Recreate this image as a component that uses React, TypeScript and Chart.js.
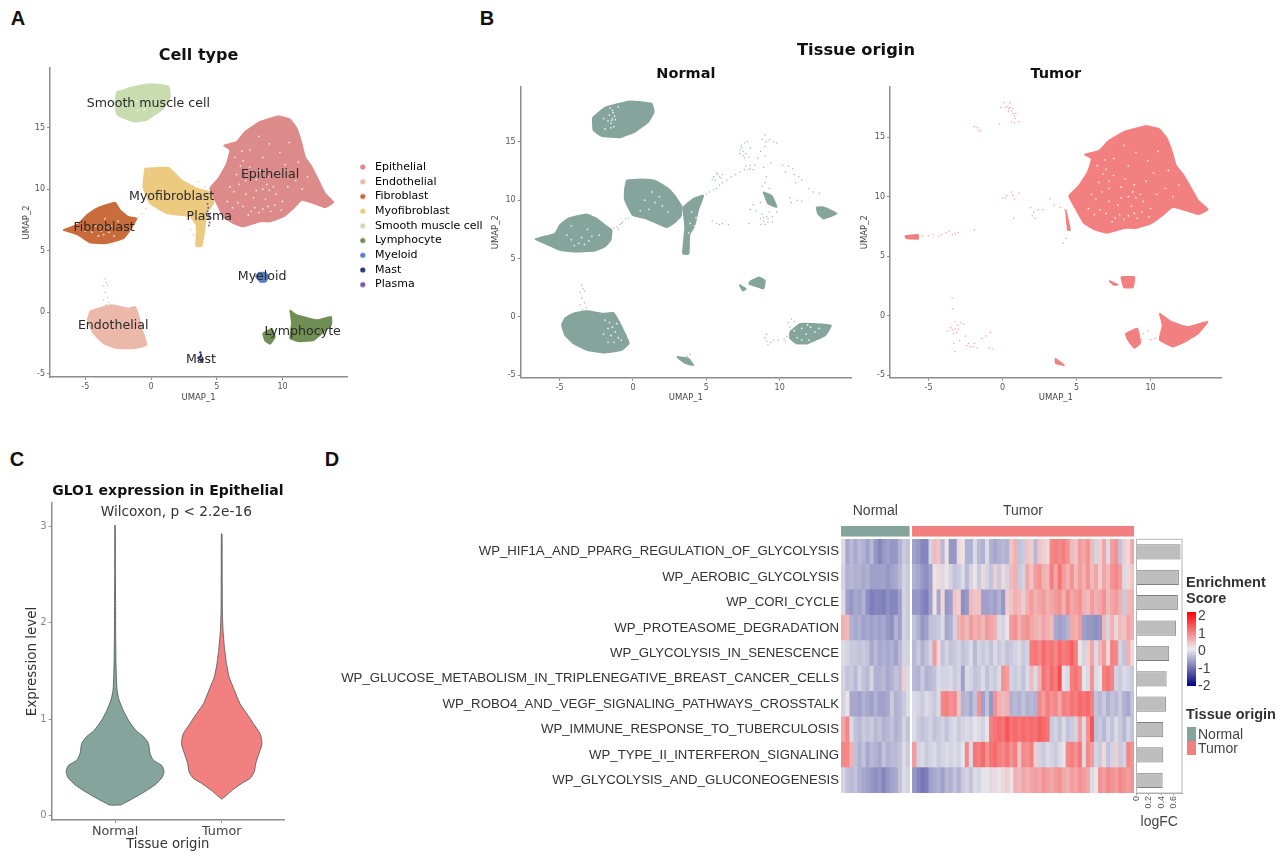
import React, { useEffect, useRef } from "react";
import { Chart, registerables } from "chart.js";
Chart.register(...registerables);
Chart.defaults.font.family = "'DejaVu Sans'";

/* ---------- colours ---------- */
const NORMAL = "#85a59c";
const TUMOR = "#f28080";
const HOLE = "rgba(255,255,255,0.8)";
const cellTypes = ["Epithelial", "Endothelial", "Fibroblast", "Myofibroblast", "Smooth muscle cell", "Lymphocyte", "Myeloid", "Mast", "Plasma"];
const cellColors = ["#dc8a8a", "#ecb8aa", "#c96c3c", "#eccb80", "#c8dcb0", "#6f8f55", "#5a7ec0", "#2b3a80", "#7a5aa5"];

/* ---------- panel A / B: cluster outlines in UMAP coordinates ---------- */
const epithelial = [[9.68,15.96],[10.57,15.69],[11.08,14.96],[11.46,13.73],[11.71,12.65],[12.22,11.83],[12.73,10.75],[13.23,9.66],[13.87,8.93],[13.23,8.52],[12.34,8.85],[11.46,9.12],[10.82,8.44],[10.06,7.76],[9.05,7.36],[8.29,7.36],[7.02,6.95],[6.26,7.22],[5.5,7.76],[4.87,9.12],[4.49,10.07],[5.12,10.88],[5.75,12.1],[6.01,13.19],[5.55,13.55],[6.51,13.87],[7.15,14.69],[8.29,15.5]];
const smoothA = [[-2.61,17.94],[-2.74,16.99],[-2.56,16.04],[-1.34,15.5],[-0.33,15.63],[0.94,16.58],[1.44,17.53],[1.32,18.4],[-0.08,18.57],[-1.47,18.3],[-2.23,18.02]];
const fibroA = [[-6.67,6.68],[-5.53,7.17],[-4.89,7.9],[-4.13,8.44],[-2.74,8.93],[-2.36,8.31],[-1.72,7.76],[-1.09,7.63],[-1.6,6.68],[-2.1,6],[-3.37,5.59],[-4.64,5.65],[-5.53,6.27]];
const myoA = [[-0.46,11.7],[1.33,11.75],[2.33,10.75],[3.47,10.07],[4.74,9.66],[4.74,8.85],[4.23,8.03],[4.03,6.4],[3.85,5.37],[3.42,5.37],[3.47,7],[2.97,7.76],[1.19,8.03],[-0.08,8.85],[-0.6,10.2]];
const endoA = [[-4.84,-0.65],[-4.64,0.03],[-4,0.3],[-2.99,0.57],[-1.72,0.3],[-1.22,0.43],[-0.96,-0.24],[-0.71,-1.33],[-0.33,-2.69],[-1.34,-2.96],[-2.61,-2.96],[-3.62,-2.55],[-4.39,-1.74]];
const lymphMainA = [[10.57,0.16],[11.07,-0.24],[12.6,-0.65],[13.7,-0.38],[13.7,-1.05],[13,-1.74],[12.35,-2.3],[11.3,-2.4],[10.57,-2.15],[10.7,-0.92]];
const lymphSmallA = [[8.5,-1.74],[9.18,-1.35],[9.43,-2],[9.05,-2.6],[8.65,-2.3]];
const myeloidA = [[7.95,2.9],[8.2,3.2],[8.7,3.2],[8.95,2.9],[8.7,2.45],[8.3,2.45]];
const mastDots = [[3.75,-3.9],[3.85,-4],[3.7,-3.7],[3.8,-3.5],[3.9,-3.85],[3.6,-3.75],[3.75,-3.3]];
const plasmaDots = [[4.3,8.8],[4.35,8.5],[4.3,8.2],[4.4,7.9],[4.35,7.6],[4.45,7.3],[4.4,7.05],[4.2,8],[4.5,7.7]];
const endoStray = [[-3.5,2.7],[-3.4,2.4],[-3.6,2.1],[-3.3,2.2],[-3.5,1.6],[-3.3,1.2],[-3.2,0.8],[-3.45,0.6],[-3.1,0.5],[-3.6,1]];
const myoStray = [[-1,7.7],[-0.7,8],[-0.4,8.4],[3.2,10.3],[3.6,10.6],[4.1,10.2],[4.5,10],[3.9,9.9],[3,6.7],[3.2,6.3]];

const nSmooth = [[-2.75,17.09],[-1.91,17.94],[-0.2,18.49],[1.27,18.29],[1.43,17.57],[1.05,16.71],[0.14,15.86],[-0.89,15.37],[-2.14,15.49],[-2.7,16]];
const nMyo = [[-0.43,11.71],[0.48,11.8],[1.39,11.71],[1.95,11.37],[2.52,10.86],[2.98,10.14],[3.32,9.43],[3.27,8.63],[2.86,8.09],[2.3,7.66],[1.39,8.14],[0.82,8.43],[-0.02,8.71],[-0.55,10],[-0.55,11]];
const nTail = [[3.4,9.4],[4.1,10.1],[4.8,10.4],[4.45,9.15],[4.2,7.8],[3.85,7],[3.8,5.4],[3.4,5.4],[3.55,7.7]];
const nFibro = [[-6.68,6.66],[-6.11,6.86],[-5.32,7.14],[-4.98,7.86],[-4.41,8.43],[-3.16,8.8],[-2.48,8.43],[-1.91,7.86],[-1.45,7.43],[-1.52,6.57],[-1.91,6],[-2.59,5.66],[-4.07,5.57],[-4.98,5.71],[-5.77,6.14]];
const nEndo = [[-4.86,-0.71],[-4.64,-0.14],[-4.07,0.29],[-3.16,0.49],[-2.02,0.29],[-1.34,0.34],[-1,-0.29],[-0.66,-1.14],[-0.27,-2.29],[-0.77,-2.86],[-2.02,-3.09],[-3.16,-2.86],[-4.07,-2.29],[-4.64,-1.57]];
const nLymph = [[10.7,-1.3],[11.4,-0.6],[13.5,-0.75],[13.1,-1.6],[11.9,-2.3],[11.15,-2.3],[10.7,-1.85]];
const nMyeloid = [[8,3.05],[8.6,3.4],[9,3.1],[8.9,2.4],[8.4,2.6],[7.9,2.8]];
const nMyeloid2 = [[7.25,2.75],[7.7,2.4],[7.5,2.2]];
const nMast = [[2.98,-3.43],[3.78,-3.57],[4.12,-4.16],[3.54,-3.98]];
const nPatch1 = [[8.88,10.7],[9.45,10.4],[9.8,9.4],[9.2,9.7]];
const nPatch2 = [[12.5,9.4],[13,9.4],[13.9,8.85],[13,8.4],[12.6,8.85]];
const nStray = [[-3.5,2.7],[-3.4,2.4],[-3.6,2.1],[-3.3,2.2],[-3.5,1.6],[-3.3,1.2],[-3.2,0.8],[-3.45,0.6],[-3.1,0.5],[-3.6,1],
  [-1.3,7.6],[-1.1,7.7],[-0.9,7.9],[-0.7,8.1],[-0.5,8.4],[-0.3,8.5],[-0.8,8],[-1,7.5],
  [5,10.5],[5.2,10.7],[5.5,10.9],[5.7,11],[5.9,11.3],[6.1,11.5],[6.4,11.7],[6.7,12],[7,12.2],[7.3,12.4],[7.6,12.6],[8,12.7],[6,11.9],[5.6,11.7],[5.5,12],[5.8,12.2],[6.1,12.2],[5.4,11.8],[5.9,12],[5.7,12.3],
  [7.4,14.7],[7.6,14.9],[7.8,15],[7.3,14.3],[7.5,14.2],[7.7,14],[7.9,13.7],[7.3,14],[7.5,13.8],[8,14.5],[8,13],[7.7,12.9],[8.2,12.6],[8.3,13],[7.9,12.6],[7.4,14.5],[7.6,13.6],
  [8.8,15.2],[9,15.6],[9.1,15],[9.3,15.2],[9.6,15],[9.8,14.9],[9,14.6],[8.7,14.2],[8.5,13.6],[9,13.8],[9.4,13.2],[8.9,12.8],[9.1,12],[10.2,13],[10.6,12.9],[10.9,12.7],[11,12.2],[10.4,12.4],[11.3,12],[11.5,11.7],[11.1,11.5],[12,11],[12.3,10.7],[12.7,10.6],[11.2,10],[10.7,10.2],[10.8,9.8],[11.5,9.9],
  [9,11.5],[8.8,11.2],[9.3,11],[8.7,9.8],[8.2,9.6],[8,9.2],[8.4,9.1],[8.7,8.4],[8.9,8.2],[9.2,8.4],[9.5,8.6],[9.8,9],[9.3,9],[8.8,8.8],[9.5,8.1],[9,7.9],[8.7,7.9],[7.9,8],[9.1,8.6],[8.9,8.5],[9.2,8.1],
  [5.4,8.2],[5.7,8],[5.9,7.9],[6.1,8],[6.5,7.9],
  [9,-1.8],[9.1,-2.1],[9.2,-2.4],[9.4,-2.2],[9.6,-2],[9.9,-2],[10.3,-1.9],[10.5,-1.7],[10.6,-0.5],[10.8,-0.2],[11,-0.4],[10.7,-0.9],[10.4,-2.1],[9.1,-1.5],[3.9,-3.2],[3.7,-3.4]];

const tLymph = [[10.6,0.2],[11.4,-0.5],[12.5,-0.92],[13.85,-0.5],[13.2,-1.5],[12.3,-2.2],[11.5,-2.6],[10.6,-2],[10.8,-0.8]];
const tLymph2 = [[8.3,-1.5],[9.1,-1.05],[9.3,-2.3],[8.9,-2.7],[8.45,-2]];
const tMyeloid = [[8,3.27],[8.9,3.27],[8.8,2.38],[8.2,2.38]];
const tMyeloid2 = [[7.2,2.95],[7.8,2.6],[7.5,2.6]];
const tMast = [[3.55,-3.58],[4.16,-4.15],[3.6,-4]];
const tStrip = [[-6.6,6.7],[-5.7,6.8],[-5.7,6.45],[-6.5,6.5]];
const tStrand = [[4.27,8.9],[4.57,7.2],[4.4,7.2]];
const tStray = [[0.3,17.6],[0.5,17.5],[0.4,17.2],[0.6,17.2],[0.7,17],[0.8,16.8],[0.9,17],[0.5,17.9],[0.2,17.5],[0.4,17.4],[0.7,17.4],[0.85,16.6],[-0.1,17.5],[0.1,17.9],[-0.2,16.1],[0.6,16.3],[1.1,16.3],[0.8,16.2],
  [-1.9,15.9],[-1.7,15.8],[-1.5,15.5],[-1.6,15.6],
  [0,9.9],[0.3,10.1],[0.6,10.4],[0.7,10.1],[0.8,9.8],[1.1,10.3],[0.2,9.9],[0.75,8.2],
  [1.9,9.1],[2.1,8.7],[2,8.4],[2.4,8.9],[2.7,8.9],[2.2,8.2],[3.2,9.8],[3.5,9.3],[3.9,9.1],[4.2,8.9],[4.1,6.1],[4.3,6.5],
  [-5.4,6.7],[-5,6.7],[-4.7,6.8],[-4.3,6.7],[-4.1,6.8],[-3.8,7],[-3.6,7.1],[-3.4,6.8],[-3.2,6.9],[-3,7],[-1.9,7.2],
  [-3.5,-1],[-3.4,-1.2],[-3.2,-1.1],[-3.1,-1.4],[-3.3,-1.5],[-3,-1.1],[-3,-0.8],[-2.8,-0.6],[-2.6,-0.7],[-3.7,-1.3],[-3.2,-0.5],[-2.5,-1.7],[-2.4,-2.5],[-2.2,-2.6],[-2,-2.6],[-2.3,-2.3],[-1.9,-2.3],[-1.7,-2.7],[-1.4,-1.9],[-1.1,-1.7],[-0.8,-1.4],[-0.9,-2.7],[-0.7,-2.8],[-3.2,-3],[-3.35,0.6],[-3.4,1.5],[-3.3,-2.3],[-2.9,-2.1],
  [9.5,-1.5],[10,-2],[9.4,-2],[9.8,-1.3],[10.3,-1.9]];

/* white gaps inside the clusters */
const holesEpi = [[7.5,11.8],[7.2,11.3],[8.8,10.4],[9,9.9],[8.5,10],[9.3,10.2],[9.5,9.6],[8.7,9.2],[8.9,8.6],[7.6,8.2],[7.9,8.5],[7,8.6],[6.6,8.9],[6.3,9.8],[6.7,10.4],[7.2,9.6],[7.4,7.9],[8.2,8.1],[8.5,8.4],[9.1,8.2],[9.4,8.7],[7.8,9.3],[8,10.8],[8.3,11.5],[7,12.3],[6.8,11.9],[9.8,13],[10.2,12],[9,13.7],[8.5,12.6],[10.4,10.2],[11,10.7],[11.5,10],[11.9,11],[6.2,8.5],[5.8,9],[6.4,12.6],[6.9,13.1],[7.5,13.2],[9.7,11.3],[10.5,13.8],[8.2,14.3],[10,9],[9.9,8.3],[7.2,10.7],[8.9,11],[6,10.2],[6.5,11.2],[11.2,12.2],[8,9.9]];
const holesFibA = [[-3.8,6.6],[-3.6,6.3],[-3.2,6.5],[-3.4,6.9],[-4.2,7],[-4.5,6.5],[-2.8,6.2],[-3,7],[-4,6.2],[-2.5,7.4],[-3.5,7.6],[-5,6.6]];
const holesSmoothA = [[-1,16.4],[-0.8,16.9],[-1.1,17.2],[-0.5,16.5]];
const holesN = [[-1.4,17],[-1.5,16.6],[-1.6,17.3],[-1.3,16.3],[-1.5,16.2],[-1.35,17.5],[-1.2,16.9],[-1.7,16.8],[-1.4,17.7],[-1.55,17.9],[-1,18],[-2,17],[-1.9,16.1],[-1.25,17.2],[-1.45,16.85],
  [-1.6,-0.5],[-1.4,-0.9],[-1.2,-1.3],[-1.1,-0.6],[-1.5,-1.6],[-1.7,-1],[-1,-1.8],[-1.9,-0.3],[-1.3,-2.2],[-0.8,-2],[-1.7,-2.2],[-2,-1.5],
  [11.5,-1],[11.8,-1.5],[12.1,-0.9],[11.2,-1.8],[12.4,-1.3],[11,-1.2],[12.7,-1],[12,-2],[11.5,-2],[11.9,-0.7],
  [1.5,9.8],[2,9.5],[0.8,10],[1.1,9.2],[2.4,9],[0.5,9.1],[1.8,10.3],[1.3,10.7],
  [4,9],[4.3,8.5],[3.9,8],[4.2,7.8],[3.8,7.2],[4.4,7.6],
  [-4.5,7],[-4.2,6.6],[-3.7,6.3],[-3.3,6.2],[-3,6.5],[-2.8,6.9],[-3.5,6.8],[-4,6.1],[-2.3,7],[-3.1,7.5],[-4.2,7.8]];

const umapTicksX = [-5, 0, 5, 10];
const umapTicksY = [-5, 0, 5, 10, 15];
const clusterLabels = ["Smooth muscle cell", "Epithelial", "Myofibroblast", "Plasma", "Fibroblast", "Myeloid", "Endothelial", "Lymphocyte", "Mast"];
const clusterLabelX = [-0.2, 9.05, 1.57, 4.43, -3.57, 8.45, -2.88, 11.53, 3.8];
const clusterLabelY = [17.0, 11.2, 9.4, 7.73, 6.87, 2.87, -1.14, -1.6, -3.9];

/* ---------- panel C ---------- */
const violinGroups = ["Normal", "Tumor"];
const normalLevel = [0.11,0.13,0.18,0.25,0.32,0.39,0.455,0.52,0.575,0.645,0.75,0.82,0.885,0.99,1.09,1.2,1.3,1.44,1.58,1.85,2.2,2.54,3.01];
const normalWidth = [0.053,0.088,0.172,0.281,0.375,0.438,0.459,0.438,0.359,0.328,0.3125,0.266,0.194,0.125,0.078,0.0375,0.019,0.0125,0.009,0.006,0.005,0.003,0.002];
const tumorLevel = [0.17,0.214,0.265,0.334,0.386,0.455,0.54,0.645,0.73,0.78,0.85,0.955,1.06,1.16,1.3,1.44,1.58,1.75,1.92,2.13,2.37,2.92];
const tumorWidth = [0,0.047,0.1,0.1875,0.266,0.306,0.319,0.35,0.375,0.375,0.36,0.297,0.234,0.172,0.119,0.069,0.044,0.025,0.0125,0.006,0.005,0.003];

/* ---------- panel D ---------- */
const pathways = ["WP_HIF1A_AND_PPARG_REGULATION_OF_GLYCOLYSIS","WP_AEROBIC_GLYCOLYSIS","WP_CORI_CYCLE","WP_PROTEASOME_DEGRADATION","WP_GLYCOLYSIS_IN_SENESCENCE","WP_GLUCOSE_METABOLISM_IN_TRIPLENEGATIVE_BREAST_CANCER_CELLS","WP_ROBO4_AND_VEGF_SIGNALING_PATHWAYS_CROSSTALK","WP_IMMUNE_RESPONSE_TO_TUBERCULOSIS","WP_TYPE_II_INTERFERON_SIGNALING","WP_GLYCOLYSIS_AND_GLUCONEOGENESIS"];
const logFC = [0.716,0.689,0.673,0.645,0.532,0.49,0.478,0.435,0.435,0.425];
const scoreNormal = [
  [-0.2,-0.8,-0.6,-0.8,-0.6,-0.7,-0.9,-0.6,-1,-1.2,-1,-0.9,-1,-1,-0.7,-0.4,-0.5],
  [-0.3,-0.7,-0.6,-0.7,-0.7,-0.8,-0.7,-0.9,-0.9,-0.9,-0.9,-1,-0.9,-0.8,-0.6,-0.3,-0.4],
  [-0.2,-0.9,-1,-0.8,-0.9,-0.7,-1.1,-1.3,-1.2,-1.2,-1.3,-1.1,-1.2,-1.2,-0.9,-0.3,-0.4],
  [0.6,0.5,-0.7,-0.8,-0.7,-0.9,-0.8,-0.9,-0.8,-0.9,-0.8,-1,-1.1,-0.7,-0.9,-0.3,-0.4],
  [-0.2,-0.3,-0.4,-0.4,-0.5,-0.4,-0.5,-0.8,-0.6,-0.8,-0.7,-0.8,-0.7,-0.9,-0.6,-0.3,-0.3],
  [-0.3,-0.5,-0.4,-0.6,-0.3,-0.5,-0.6,-0.3,-0.7,-0.7,-0.6,-0.8,-0.7,-0.5,-0.6,0.3,-0.2],
  [-0.3,0.1,-0.8,-0.8,-0.9,-0.7,-0.8,-0.9,-0.7,-0.9,-0.9,-0.8,-0.4,-0.7,-0.6,-0.4,-0.2],
  [0.7,1,-0.2,-0.5,-0.6,-0.4,-0.5,-0.4,-0.6,-0.5,-0.7,-0.6,-0.5,-0.7,-0.6,-0.3,-0.5],
  [1,1,0.6,-0.5,-0.7,-0.5,-0.8,-0.6,-0.7,-0.8,-0.5,-0.7,-0.6,-0.6,-0.5,-0.2,-0.4],
  [-0.3,-0.5,-0.6,-0.5,-0.7,-0.8,-0.9,-1,-1.1,-1,-1.2,-1,-0.9,-0.8,-0.5,-0.2,-0.3],
];
const scoreTumor = [
  [-0.9,-1,-1.2,-1.2,-0.3, 0.5,0.4,-0.6,0.1,-1, -1,0.2,0.1,-0.7,-0.7, -0.2,-0.6,-0.7,-0.2,-0.7, -0.8,-0.7,-0.6,-0.7,0.4, 0.6,-0.5,-0.4,0.4,0.3, -0.6,0.4,0.3,0.2,1, 1.1,1,1.1,0.9,0.5, 0.4,0.8,0.7,0.9,0.5, -0.3,0.3,0.7,-0.2,0.8, 0.9,-0.5,0.3,0.2,0.7],
  [-0.7,-0.8,-1,-1.1,-0.9, 0.1,0.2,-0.2,0.1,-0.3, -0.5,-0.4,-0.2,-0.6,-0.3, 0.1,-0.4,0.2,-0.3,-0.5, 0.3,-0.4,0.2,-0.3,0.5, 0.6,-0.4,-0.3,0.7,0.4, 0.8,0.9,0.6,0.5,1.1, 0.7,1.2,0.8,0.6,0.9, 0.5,0.8,0.6,0.9,0.5, 0.7,0.3,0.7,0.5,0.9, 1,0.8,-0.2,0.2,0.4],
  [-1,-1,-1.2,-1.3,-0.9, 0.1,-0.8,0.2,-1,-0.9, 0.4,0.3,-1.1,-1,0.5, 0.4,0.4,-0.9,-0.9,-0.8, -0.9,-0.7,-1,0.3,0.4, 0.6,0.5,0.3,0.6,0.8, 0.6,0.7,0.8,0.6,0.7, 0.8,0.9,0.6,1,0.7, 0.8,0.9,0.6,0.5,0.8, 0.6,0.7,0.9,0.5,0.7, 0.8,0.6,-0.4,0.5,0.6],
  [-0.5,-0.7,-1,-0.9,-0.5, -0.5,-0.4,-0.2,-0.8,-0.7, -0.3,0.6,0.7,0.5,0.8, 0.6,0.7,0.5,0.8,0.7, 0.6,-0.2,-0.3,0.1,0.8, 0.9,0.6,0.8,0.9,0.7, 0.6,0.5,0.7,0.6,0.5, -0.8,-0.9,-0.8,-0.7,0.7, 0.6,0.8,-0.9,-1,-1, -1.1,-1,0.5,-0.3,0.6, 0.2,0.5,0.4,0.7,0.6],
  [-0.6,-0.4,-0.7,-0.5,-0.3, 0.8,0.2,-0.5,-0.3,-0.5, -0.4,-0.3,-0.5,-0.4,-0.2, -0.6,-0.3,-0.4,-0.3,-0.5, -0.2,-0.4,-0.3,-0.5,-0.4, -0.3,-0.2,-0.4,-0.3,1.1, 1.2,1,1.3,1.1,1.2, 1,1.3,1.1,1.2,1.4, 1.1,0.1,-0.3,0.3,0.7, -0.2,0.5,0.8,0.2,1.1, 1,-0.3,-0.5,0.6,0.2],
  [-0.6,-0.7,-0.4,-0.7,-0.6, -0.5,-0.2,-0.3,-0.3,-0.2, -0.4,-0.3,-0.9,-0.2,-0.3, -0.5,-0.4,-0.2,-0.5,-0.3, -0.4,-0.2,0.9,0.8,-0.3, -0.4,-0.3,-0.5,-0.2,0.5, -0.2,0.6,1.2,1,1.3, 1.1,1.6,-0.1,-0.2,1.1, 1.2,1,-0.1,-0.2,0.9, -0.2,-0.1,1.1,1.2,1, -0.3,-0.4,-0.2,-0.3,-0.4],
  [-0.2,-0.3,-0.4,-0.2,-0.3, -0.4,-0.2,1,1.1,0.9, 1,0.4,-0.7,-0.6,-0.8, -0.5,0.9,-0.9,-0.5,-1, 0.9,0.6,0.5,0.6,-0.7, -0.6,-0.7,-0.5,-0.7,-0.6, -0.7,1,0.8,1.1,0.9, 1,0.7,1.1,1,1.2, 1.1,1.3,1.2,1.3,1.1, -0.5,-0.6,-0.4,-0.7,-0.5, -0.6,-0.4,-0.7,-0.8,-0.5],
  [-0.2,-0.4,-0.5,-0.4,-0.3, -0.5,-0.4,-0.3,-0.5,-0.3, -0.2,-0.4,-0.3,-0.2,-0.3, -0.1,-0.2,-0.3,-0.1,1.1, 1.2,1.3,1.2,1.5,1.2, 1.3,1.2,1.3,1.2,1.3, 1.2,1.4,1.3,1.2,-0.4, -0.3,-0.5,-0.2,-0.5,-0.4, -0.3,0.8,-0.2,0.9,1.5, -0.5,-0.4,-0.6,-0.3,-0.5, -0.2,-0.4,-0.6,-0.3,-0.5],
  [0.8,-0.3,-0.2,-0.4,-0.3, -0.2,-0.4,-0.3,-0.2,-0.3, -0.2,-0.3,-0.1,1,-0.2, 1.2,1.1,1.3,0.9,1.2, 1.3,1.1,1,1.2,0.9, 1.1,0.4,1,0.9,1.1, 0.3,-0.3,-0.4,-0.2,-0.3, -0.4,-0.2,-0.1,1,1.1, 0.9,1.2,-0.2,1,0.8, -0.3,-0.4,0.2,-0.5,-0.3, 0.3,-0.4,-0.3,1,0.9],
  [-1,-1.2,-1.4,-1.3,-0.9, -0.8,-0.7,-0.9,-0.6,-0.7, -0.5,-0.7,-0.4,-0.3,-0.5, -0.2,-0.3,-0.1,0.1,-0.2, 0.2,-0.1,0.2,0.3,0.1, 0.6,0.5,0.7,0.6,0.7, 0.8,0.7,0.9,0.8,0.7, 0.8,0.9,0.7,0.6,0.8, 0.7,0.9,0.8,0.7,-0.2, 0.1,0.9,0.8,1,0.9, 0.8,1,0.9,0.8,0.9],
];
const groupNames = ["Normal", "Tumor"];
const groupSizes = [17, 55];
const GAP = 0.6;
const legendScoreTicks = ["2", "1", "0", "-1", "-2"];

/* ---------- helpers ---------- */
type Box = { l: number; t: number; r: number; b: number };
const LOW = [0, 0, 128], MID = [236, 236, 238], HIGH = [255, 0, 0];
function scoreColor(v: number) {
  const end = v < 0 ? LOW : HIGH;
  const f = Math.min(1, (Math.abs(v) / 2) * (v < 0 ? 0.72 : 0.85));
  const c = MID.map((m, i) => Math.round(m + (end[i] - m) * f));
  return `rgb(${c[0]},${c[1]},${c[2]})`;
}
const pts = (a: number[][]) => a.map(([x, y]) => ({ x, y }));
const blob = (a: number[][], color: string) => ({
  type: "scatter", data: pts([...a, a[0]]), showLine: true, fill: "shape", tension: 0.12,
  borderColor: color, backgroundColor: color, borderWidth: 1.4, pointRadius: 0,
});
const dots = (a: number[][], color: string, r = 0.75) => ({
  type: "scatter", data: pts(a), showLine: false, pointRadius: r, pointBorderWidth: 0,
  backgroundColor: color, borderColor: color,
});
function textPlugin(items: any[]) {
  return {
    id: "textItems",
    afterDatasetsDraw(chart: any) {
      const { ctx, scales } = chart;
      ctx.save();
      for (const it of items) {
        const xs = scales.x, ys = scales.y;
        ctx.font = it.font;
        ctx.fillStyle = it.color;
        ctx.textAlign = "center";
        ctx.textBaseline = "middle";
        ctx.fillText(it.text, xs.getPixelForValue(it.x), ys.getPixelForValue(it.y) + (it.dy || 0));
      }
      ctx.restore();
    },
  };
}
const tickAxis = (extra: any) => ({
  type: "linear",
  border: { color: "#8c8c8c", width: 1.5 },
  grid: { drawOnChartArea: false, tickLength: 3, color: "#8c8c8c" },
  ...extra,
});
function frameOpts(c: Box, a: Box, o: { title?: any; yShown?: boolean; xShown?: boolean }) {
  const yShown = o.yShown !== false, xShown = o.xShown !== false;
  const plugins: any = { legend: { display: false }, tooltip: { enabled: false } };
  if (o.title) {
    const lh = o.title.size * 1.2;
    const top = o.title.cy - lh / 2 - c.t;
    plugins.title = {
      display: true, text: o.title.text, fullSize: false, color: "#111",
      font: { size: o.title.size, weight: "bold", lineHeight: 1.2 },
      padding: { top, bottom: a.t - c.t - top - lh },
    };
  }
  return {
    responsive: false, animation: false, events: [], devicePixelRatio: 1,
    layout: { autoPadding: false, padding: { left: yShown ? 0 : a.l - c.l, top: o.title ? 0 : a.t - c.t, right: c.r - a.r, bottom: xShown ? 0 : c.b - a.b } },
    plugins,
    fixX: (s: any) => { s.height = c.b - a.b; },
    fixY: (s: any) => { s.width = a.l - c.l; },
  } as any;
}
const xTitle = (text: string, size: number, cy: number, c: Box, color = "#444") => ({
  display: true, text, color, font: { size, lineHeight: 1.2 }, padding: { top: 0, bottom: c.b - cy - size * 0.6 },
});
const yTitle = (text: string, size: number, cx: number, c: Box, color = "#444") => ({
  display: true, text, color, font: { size, lineHeight: 1.2 }, padding: { top: cx - c.l - size * 0.6, bottom: 0 },
});
function umapScales(f: any, c: Box, xr: number[], yr: number[], tx: number, ty: number) {
  const ticks = { color: "#555", font: { size: 8 }, padding: 2, maxRotation: 0 };
  return {
    x: tickAxis({ min: xr[0], max: xr[1], afterFit: f.fixX, ticks, title: xTitle("UMAP_1", 8.5, ty, c),
      afterBuildTicks: (s: any) => { s.ticks = umapTicksX.map((value) => ({ value })); } }),
    y: tickAxis({ min: yr[0], max: yr[1], afterFit: f.fixY, ticks, title: yTitle("UMAP_2", 8.5, tx, c),
      afterBuildTicks: (s: any) => { s.ticks = umapTicksY.map((value) => ({ value })); } }),
  };
}
function dotImage(color: string) {
  const cv = document.createElement("canvas");
  cv.width = 8; cv.height = 8;
  const g = cv.getContext("2d")!;
  g.fillStyle = color;
  g.beginPath(); g.arc(2.8, 4, 2.6, 0, Math.PI * 2); g.fill();
  return cv;
}
/* chart.legend is moved to its place once the layout is done */
const placeLegend = (left: number, top: number) => ({
  id: "placeLegend",
  afterLayout(chart: any) {
    const l = chart.legend;
    const w = l.width, h = l.height;
    l.left = left; l.right = left + w; l.top = top; l.bottom = top + h;
    l.adjustHitBoxes && l.adjustHitBoxes();
  },
});

/* ---------- chart boxes ---------- */
const boxA: Box = { l: 0, t: 40, r: 500, b: 410 };
const boxN: Box = { l: 480, t: 55, r: 860, b: 410 };
const boxT: Box = { l: 860, t: 55, r: 1230, b: 410 };
const boxV: Box = { l: 10, t: 478, r: 300, b: 858 };
const boxH: Box = { l: 325, t: 515, r: 1136, b: 812 };
const boxAn: Box = { l: 835, t: 498, r: 1140, b: 538 };
const boxL: Box = { l: 1128, t: 520, r: 1192, b: 832 };

/* ---------- chart configs ---------- */
function makeA() {
  const c = boxA;
  const a: Box = { l: 50, t: 68, r: 347, b: 377 };
  const f = frameOpts(c, a, { title: { text: "Cell type", size: 16, cy: 56 } });
  f.plugins.legend = {
    display: true, position: "chartArea", align: "start",
    labels: {
      usePointStyle: true, padding: 3.7, color: "#444", font: { size: 11, lineHeight: 1.2 },
      generateLabels: () => cellTypes.map((t, i) => ({ text: t, pointStyle: dotImage(cellColors[i]), fillStyle: cellColors[i], strokeStyle: cellColors[i], lineWidth: 0, hidden: false, datasetIndex: 0 })),
    },
  };
  return {
    type: "scatter",
    data: {
      datasets: [
        dots(mastDots, cellColors[7], 1.2), dots(plasmaDots, cellColors[8], 1),
        dots(holesEpi, HOLE, 0.9), dots(holesFibA, HOLE, 0.9), dots(holesSmoothA, HOLE, 0.9),
        blob(epithelial, cellColors[0]), blob(smoothA, cellColors[4]), blob(fibroA, cellColors[2]), blob(myoA, cellColors[3]),
        blob(endoA, cellColors[1]), blob(lymphMainA, cellColors[5]), blob(lymphSmallA, cellColors[5]), blob(myeloidA, cellColors[6]),
        dots(endoStray, cellColors[1]), dots(myoStray, cellColors[3]),
      ],
    },
    options: { ...f, scales: umapScales(f, c, [-7.68, 14.9], [-5.29, 19.87], 27, 398) },
    plugins: [
      placeLegend(354.8, 117.8),
      textPlugin(clusterLabels.map((t, i) => ({ text: t, x: clusterLabelX[i], y: clusterLabelY[i], font: "12.6px 'DejaVu Sans'", color: "#2a2a2a" }))),
    ],
  } as any;
}
function makeNormal() {
  const c = boxN;
  const a: Box = { l: 520.7, t: 86.7, r: 851, b: 377.7 };
  const f = frameOpts(c, a, { title: { text: "Normal", size: 14.5, cy: 74 } });
  return {
    type: "scatter",
    data: {
      datasets: [
        dots(holesN, HOLE, 0.9),
        ...[nSmooth, nMyo, nTail, nFibro, nEndo, nLymph, nMyeloid, nMyeloid2, nMast, nPatch1, nPatch2].map((p) => blob(p, NORMAL)),
        dots(nStray, "rgba(133,165,156,0.75)"),
      ],
    },
    options: { ...f, scales: umapScales(f, c, [-7.65, 14.86], [-5.23, 19.73], 496, 398) },
  } as any;
}
function makeTumor() {
  const c = boxT;
  const a: Box = { l: 890, t: 86.7, r: 1221.7, b: 377.7 };
  const f = frameOpts(c, a, { title: { text: "Tumor", size: 14.5, cy: 74 } });
  return {
    type: "scatter",
    data: {
      datasets: [
        dots(holesEpi, HOLE, 0.9),
        ...[epithelial, tLymph, tLymph2, tMyeloid, tMyeloid2, tMast, tStrip, tStrand].map((p) => blob(p, TUMOR)),
        dots(tStray, "rgba(242,128,128,0.75)"),
      ],
    },
    options: { ...f, scales: umapScales(f, c, [-7.6, 14.8], [-5.2, 19.24], 865, 398) },
  } as any;
}
function violinOutline(center: number, level: number[], width: number[]) {
  const right = level.map((y, i) => [center + width[i], y]);
  const left = level.map((y, i) => [center - width[i], y]).reverse();
  return [...right, ...left];
}
function makeViolin() {
  const c = boxV;
  const a: Box = { l: 51.7, t: 503, r: 284, b: 820 };
  const f = frameOpts(c, a, { title: { text: "GLO1 expression in Epithelial", size: 14, cy: 491 } });
  const v = (o: number[][], color: string) => ({ ...blob(o, color), tension: 0.2, borderColor: "#4d5553", borderWidth: 0.8 });
  return {
    type: "scatter",
    data: { datasets: [v(violinOutline(0, normalLevel, normalWidth), NORMAL), v(violinOutline(1, tumorLevel, tumorWidth), TUMOR)] },
    options: {
      ...f,
      scales: {
        x: tickAxis({
          min: -0.594, max: 1.584, afterFit: f.fixX,
          ticks: { stepSize: 1, includeBounds: false, color: "#444", font: { size: 12.8 }, padding: 1, maxRotation: 0, callback: (v: number) => violinGroups[v] },
          title: xTitle("Tissue origin", 13.2, 845, c, "#333"),
        }),
        y: tickAxis({
          min: -0.045, max: 3.24, afterFit: f.fixY,
          ticks: { stepSize: 1, includeBounds: false, color: "#888", font: { size: 10 }, padding: 2 },
          title: yTitle("Expression level", 13.5, 32, c, "#333"),
        }),
      },
    },
    plugins: [textPlugin([{ text: "Wilcoxon, p < 2.2e-16", x: 0.574, y: 3.137, font: "13.7px 'DejaVu Sans'", color: "#333" }])],
  } as any;
}
function heatDatasets() {
  const mk = (src: number[][], col: number) => ({ data: src.map(() => 1), backgroundColor: src.map((r) => scoreColor(r[col])), borderWidth: 0, barPercentage: 1, categoryPercentage: 1 });
  const sets: any[] = [];
  for (let i = 0; i < groupSizes[0]; i++) sets.push(mk(scoreNormal, i));
  sets.push({ data: pathways.map(() => GAP), backgroundColor: "#ffffff", borderWidth: 0, barPercentage: 1, categoryPercentage: 1, inflateAmount: 0 });
  for (let i = 0; i < groupSizes[1]; i++) sets.push(mk(scoreTumor, i));
  return sets;
}
const TOTAL = groupSizes[0] + GAP + groupSizes[1];
function makeHeat() {
  const c = boxH;
  const a: Box = { l: 841, t: 539, r: 1134, b: 793 };
  const f = frameOpts(c, a, { xShown: false });
  return {
    type: "bar",
    data: { labels: pathways, datasets: heatDatasets() },
    options: {
      ...f, indexAxis: "y",
      scales: {
        x: { type: "linear", stacked: true, min: 0, max: TOTAL, display: false },
        y: {
          type: "category", stacked: true, afterFit: f.fixY,
          border: { display: false }, grid: { display: false, drawTicks: false, tickLength: 0 },
          ticks: { autoSkip: false, padding: 2, color: "#333", font: { family: "'Liberation Sans'", size: 13.2 } },
        },
      },
    },
  } as any;
}
function makeAnno() {
  const c = boxAn;
  const a: Box = { l: 841, t: 525.7, r: 1134, b: 536.7 };
  const f = frameOpts(c, a, { xShown: false, yShown: false });
  const bar = (v: number, color: string) => ({ data: [v], backgroundColor: color, borderWidth: 0, barPercentage: 1, categoryPercentage: 1, inflateAmount: 0 });
  return {
    type: "bar",
    data: { labels: ["Tissue origin"], datasets: [bar(groupSizes[0], NORMAL), bar(GAP, "#ffffff"), bar(groupSizes[1], TUMOR)] },
    options: {
      ...f, indexAxis: "y",
      scales: { x: { type: "linear", stacked: true, min: 0, max: TOTAL, display: false }, y: { type: "category", stacked: true, display: false } },
    },
    plugins: [textPlugin(groupNames.map((t, i) => ({
      text: t, x: i === 0 ? groupSizes[0] / 2 : groupSizes[0] + GAP + groupSizes[1] / 2, y: 0, dy: -20,
      font: "14px 'Liberation Sans'", color: "#444",
    })))],
  } as any;
}
function makeLogFC() {
  const c = boxL;
  const a: Box = { l: 1136.5, t: 539.3, r: 1182, b: 793 };
  const f = frameOpts(c, a, { yShown: false });
  return {
    type: "bar",
    data: { labels: pathways, datasets: [{ data: logFC, backgroundColor: "#bebebe", borderColor: "#808080", borderWidth: 1, barPercentage: 0.6, categoryPercentage: 1 }] },
    options: {
      ...f, indexAxis: "y",
      scales: {
        x: {
          type: "linear", min: 0, max: 0.74, afterFit: f.fixX,
          border: { color: "#aaaaaa" }, grid: { drawOnChartArea: false, tickLength: 2, color: "#999" },
          ticks: {
            stepSize: 0.2, includeBounds: false, autoSkip: false, minRotation: 90, maxRotation: 90, padding: 1, color: "#555",
            font: { family: "'Liberation Sans'", size: 9 }, callback: (v: number) => (v === 0 ? "0" : v.toFixed(1)),
          },
          title: { display: true, text: "logFC", color: "#444", font: { family: "'Liberation Sans'", size: 14, lineHeight: 1.2 }, padding: { top: 0, bottom: 1 } },
        },
        y: { type: "category", display: false },
      },
    },
    plugins: [{
      id: "frame",
      beforeDatasetsDraw(chart: any) {
        const { ctx, chartArea: ar } = chart;
        ctx.save(); ctx.strokeStyle = "#b4b4b4"; ctx.lineWidth = 1;
        ctx.strokeRect(ar.left, ar.top, ar.right - ar.left, ar.bottom - ar.top);
        ctx.restore();
      },
    }],
  } as any;
}

/* ---------- page ---------- */
function Panel({ box, make }: { box: Box; make: () => any }) {
  const ref = useRef<HTMLCanvasElement>(null);
  useEffect(() => {
    const ch = new Chart(ref.current!, make());
    return () => ch.destroy();
  }, []);
  return <canvas ref={ref} width={box.r - box.l} height={box.b - box.t} style={{ position: "absolute", left: box.l, top: box.t }} />;
}
function T({ x, y, s, size, bold, family, color, center }: any) {
  return (
    <div style={{
      position: "absolute", left: x, top: y, transform: center ? "translate(-50%,-50%)" : "translateY(-50%)", whiteSpace: "nowrap",
      fontSize: size, fontWeight: bold ? 700 : 400, fontFamily: family || "'Liberation Sans'", color: color || "#222", lineHeight: 1,
    }}>{s}</div>
  );
}
export default function App() {
  return (
    <div style={{ position: "absolute", left: 0, top: 0, width: 1280, height: 860, background: "#fff", overflow: "hidden", filter: "blur(0.45px)" }}>
      <Panel box={boxA} make={makeA} />
      <Panel box={boxN} make={makeNormal} />
      <Panel box={boxT} make={makeTumor} />
      <Panel box={boxV} make={makeViolin} />
      <Panel box={boxH} make={makeHeat} />
      <Panel box={boxAn} make={makeAnno} />
      <Panel box={boxL} make={makeLogFC} />
      <T x={18} y={18} s="A" size={20} bold center color="#111" />
      <T x={487} y={18} s="B" size={20} bold center color="#111" />
      <T x={17} y={459} s="C" size={20} bold center color="#111" />
      <T x={332} y={459} s="D" size={20} bold center color="#111" />
      <T x={856} y={50} s="Tissue origin" size={16.3} bold center family="'DejaVu Sans'" color="#111" />
      <T x={1186} y={582} s="Enrichment" size={14.5} bold color="#333" />
      <T x={1186} y={598} s="Score" size={14.5} bold color="#333" />
      <div style={{ position: "absolute", left: 1186.7, top: 611.7, width: 9.3, height: 74, background: "linear-gradient(to bottom, rgb(255,0,0), rgb(236,236,238) 50%, rgb(0,0,128))" }} />
      {legendScoreTicks.map((t, i) => <T key={t} x={1198} y={615 + i * 17.6} s={t} size={14} color="#444" />)}
      <T x={1186} y={714} s="Tissue origin" size={14.5} bold color="#333" />
      <div style={{ position: "absolute", left: 1186.7, top: 727, width: 9, height: 13.5, background: NORMAL }} />
      <div style={{ position: "absolute", left: 1186.7, top: 741, width: 9, height: 13.5, background: TUMOR }} />
      <T x={1198} y={733.5} s="Normal" size={14} color="#444" />
      <T x={1198} y={748} s="Tumor" size={14} color="#444" />
    </div>
  );
}
